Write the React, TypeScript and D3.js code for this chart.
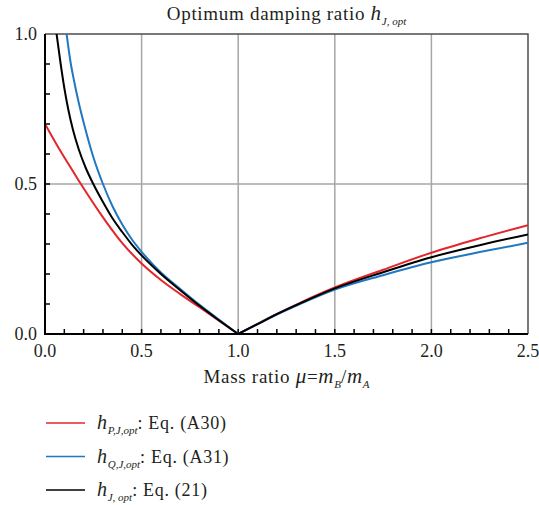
import React, { useEffect, useRef } from 'react';
import * as d3 from 'd3';

// mass ratio mu and optimum damping ratio
// left branch (mu <= 1) and right branch (mu >= 1) kept apart so the kink at mu = 1 stays sharp
const muLeftP = [0, 0.06, 0.12, 0.175, 0.23, 0.285, 0.34, 0.4, 0.5, 0.6, 0.7, 0.8, 0.9, 1.0];
const hLeftP = [0.7, 0.632, 0.568, 0.511, 0.456, 0.403, 0.353, 0.303, 0.235, 0.18, 0.133, 0.089, 0.044, 0];

const muLeftQ = [0.1, 0.112, 0.13, 0.15, 0.175, 0.2, 0.25, 0.3, 0.35, 0.4, 0.45, 0.5, 0.6, 0.7, 0.8, 0.9, 1.0];
const hLeftQ = [1.06, 1.0, 0.915, 0.845, 0.77, 0.705, 0.59, 0.5, 0.425, 0.365, 0.315, 0.274, 0.205, 0.15, 0.097, 0.048, 0];

const muLeftJ = [0.05, 0.06, 0.08, 0.1, 0.12, 0.145, 0.175, 0.21, 0.25, 0.3, 0.35, 0.4, 0.45, 0.5, 0.6, 0.7, 0.8, 0.9, 1.0];
const hLeftJ = [1.05, 1.0, 0.905, 0.82, 0.75, 0.68, 0.615, 0.555, 0.5, 0.44, 0.385, 0.34, 0.298, 0.262, 0.2, 0.146, 0.094, 0.046, 0];

const muRight = [1.0, 1.1, 1.2, 1.32, 1.5, 1.75, 2.0, 2.25, 2.5];
const hRightP = [0, 0.034, 0.067, 0.104, 0.155, 0.214, 0.271, 0.319, 0.363];
const hRightQ = [0, 0.033, 0.065, 0.1, 0.148, 0.196, 0.239, 0.273, 0.304];
const hRightJ = [0, 0.033, 0.066, 0.102, 0.152, 0.206, 0.256, 0.296, 0.332];

const xTicks = [0, 0.5, 1.0, 1.5, 2.0, 2.5];
const yTicks = [0, 0.5, 1.0];

const serif = '"Liberation Serif", "Times New Roman", serif';

const App = () => {
  const svgRef = useRef<SVGSVGElement>(null);

  useEffect(() => {
    const svg = d3.select(svgRef.current);
    svg.selectAll('*').remove();

    const left = 45, right = 528, top = 34, bottom = 334;

    const x = d3.scaleLinear().domain([0, 2.5]).range([left, right]);
    const y = d3.scaleLinear().domain([0, 1]).range([bottom, top]);

    svg.append('defs').append('clipPath').attr('id', 'plot-clip')
      .append('rect')
      .attr('x', left).attr('y', top)
      .attr('width', right - left).attr('height', bottom - top);

    // grid
    svg.append('g').selectAll('line')
      .data([0.5, 1.0, 1.5, 2.0])
      .enter().append('line')
      .attr('x1', d => x(d)).attr('x2', d => x(d))
      .attr('y1', top).attr('y2', bottom)
      .attr('stroke', '#a6a6a6').attr('stroke-width', 1.5);
    svg.append('line')
      .attr('x1', left).attr('x2', right)
      .attr('y1', y(0.5)).attr('y2', y(0.5))
      .attr('stroke', '#a6a6a6').attr('stroke-width', 1.5);

    // frame: top and right
    svg.append('path')
      .attr('d', `M${left},${top}H${right}V${bottom}`)
      .attr('fill', 'none').attr('stroke', '#4d4d4d').attr('stroke-width', 1.5);

    // minor ticks, pointing inwards
    svg.append('g').selectAll('line')
      .data(d3.range(1, 25).map(i => i / 10))
      .enter().append('line')
      .attr('x1', d => x(d)).attr('x2', d => x(d))
      .attr('y1', bottom).attr('y2', bottom - 5)
      .attr('stroke', '#000').attr('stroke-width', 1.5);
    svg.append('g').selectAll('line')
      .data(d3.range(1, 10).map(i => i / 10))
      .enter().append('line')
      .attr('x1', left).attr('x2', left + 5)
      .attr('y1', d => y(d)).attr('y2', d => y(d))
      .attr('stroke', '#000').attr('stroke-width', 1.5);

    // curves
    const line = d3.line<[number, number]>()
      .x(d => x(d[0]))
      .y(d => y(d[1]))
      .curve(d3.curveMonotoneX);

    const series = [
      { color: '#e3262c', l: [muLeftP, hLeftP], r: [muRight, hRightP] },
      { color: '#1f78c1', l: [muLeftQ, hLeftQ], r: [muRight, hRightQ] },
      { color: '#000000', l: [muLeftJ, hLeftJ], r: [muRight, hRightJ] },
    ];
    const curves = svg.append('g').attr('clip-path', 'url(#plot-clip)');
    series.forEach(s => {
      [s.l, s.r].forEach(([ms, hs]) => {
        curves.append('path')
          .datum(ms.map((m, i) => [m, hs[i]] as [number, number]))
          .attr('d', line)
          .attr('fill', 'none')
          .attr('stroke', s.color)
          .attr('stroke-width', 2)
          .attr('stroke-linejoin', 'round');
      });
    });

    // axes lines
    svg.append('path')
      .attr('d', `M${left},${top}V${bottom}H${right}`)
      .attr('fill', 'none').attr('stroke', '#000').attr('stroke-width', 2);

    // tick labels
    svg.append('g').selectAll('text')
      .data(xTicks)
      .enter().append('text')
      .attr('x', d => x(d)).attr('y', bottom + 23)
      .attr('text-anchor', 'middle')
      .style('font-family', serif).style('font-size', '18px')
      .attr('fill', '#231f20')
      .text(d => d.toFixed(1));
    svg.append('g').selectAll('text')
      .data(yTicks)
      .enter().append('text')
      .attr('x', left - 8).attr('y', d => y(d) + 6)
      .attr('text-anchor', 'end')
      .style('font-family', serif).style('font-size', '18px')
      .attr('fill', '#231f20')
      .text(d => d.toFixed(1));

    const richText = (xPos: number, yPos: number, anchor: string, size: number, parts: [string, string][]) => {
      const t = svg.append('text')
        .attr('x', xPos).attr('y', yPos)
        .attr('text-anchor', anchor)
        .style('font-family', serif).style('font-size', `${size}px`)
        .style('letter-spacing', '0.7px')
        .attr('fill', '#231f20');
      let shifted = false;
      parts.forEach(([kind, str]) => {
        const ts = t.append('tspan').text(str);
        if (kind === 'i') ts.style('font-style', 'italic').style('font-size', `${size + 2}px`);
        if (kind === 's') {
          ts.style('font-style', 'italic').style('font-size', '11px').style('letter-spacing', '0px');
          if (!shifted) { ts.attr('dy', 5); shifted = true; }
        } else if (shifted) {
          ts.attr('dy', -5); shifted = false;
        }
      });
      return t;
    };

    // title
    richText((left + right) / 2, 20, 'middle', 19, [
      ['n', 'Optimum damping ratio '], ['i', 'h'], ['s', 'J, opt'],
    ]);

    // x axis title
    richText((left + right) / 2, 383, 'middle', 19, [
      ['n', 'Mass ratio '], ['i', 'μ'], ['n', '='], ['i', 'm'], ['s', 'B'], ['n', '/'], ['i', 'm'], ['s', 'A'],
    ]);

    // legend
    const legend = [
      { color: '#e3262c', sub: 'P,J,opt', eq: ': Eq. (A30)' },
      { color: '#1f78c1', sub: 'Q,J,opt', eq: ': Eq. (A31)' },
      { color: '#000000', sub: 'J, opt', eq: ': Eq. (21)' },
    ];
    legend.forEach((d, i) => {
      const ly = 423 + i * 33.5;
      svg.append('line')
        .attr('x1', 46).attr('x2', 85)
        .attr('y1', ly).attr('y2', ly)
        .attr('stroke', d.color).attr('stroke-width', 1.5);
      richText(97, ly + 6, 'start', 18, [['i', 'h'], ['s', d.sub], ['n', d.eq]]);
    });
  }, []);

  return (
    <svg
      ref={svgRef}
      width={539}
      height={505}
      style={{ position: 'absolute', left: 0, top: 0, background: '#fff' }}
    />
  );
};

export default App;
